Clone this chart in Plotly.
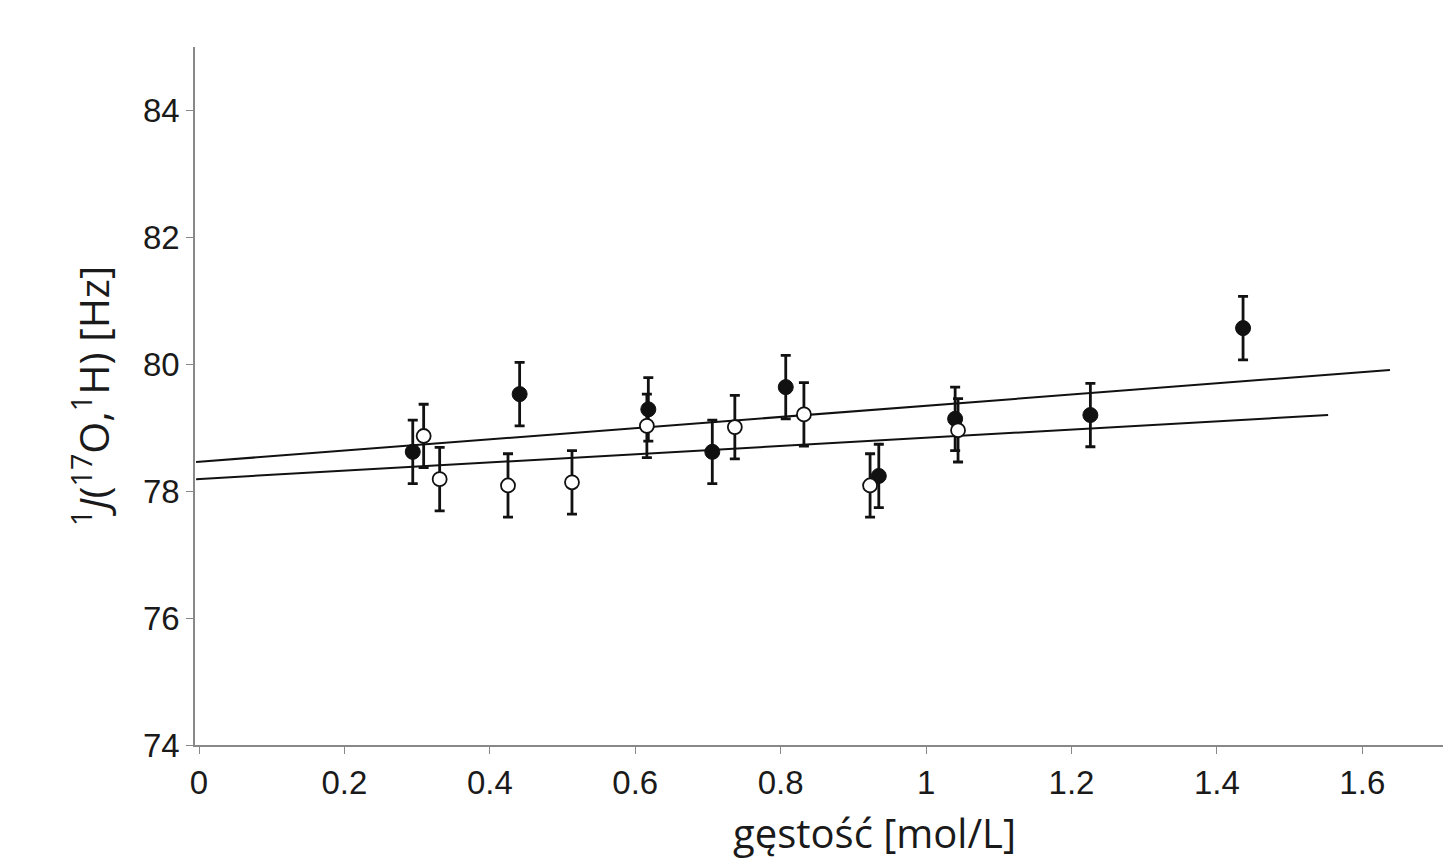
import plotly.graph_objects as go

# filled circles
x_filled = [0.294, 0.441, 0.618, 0.706, 0.807, 0.935, 1.040, 1.226, 1.436]
y_filled = [78.62, 79.53, 79.29, 78.62, 79.64, 78.24, 79.14, 79.20, 80.57]
err_filled = [0.5, 0.5, 0.5, 0.5, 0.5, 0.5, 0.5, 0.5, 0.5]

# open circles
x_open = [0.309, 0.331, 0.425, 0.513, 0.616, 0.737, 0.832, 0.923, 1.044]
y_open = [78.87, 78.19, 78.09, 78.14, 79.03, 79.01, 79.21, 78.09, 78.96]
err_open = [0.5, 0.5, 0.5, 0.5, 0.5, 0.5, 0.5, 0.5, 0.5]

# fit lines
fit_filled_x = [-0.004, 1.638]
fit_filled_y = [78.46, 79.91]
fit_open_x = [-0.004, 1.553]
fit_open_y = [78.19, 79.20]

x_ticks = [0, 0.2, 0.4, 0.6, 0.8, 1, 1.2, 1.4, 1.6]
x_ticklabels = ["0", "0.2", "0.4", "0.6", "0.8", "1", "1.2", "1.4", "1.6"]
y_ticks = [74, 76, 78, 80, 82, 84]

TICKFONT = "Liberation Sans"
TITLEFONT = "Open Sans"
TXT = "#1a1a1a"

fig = go.Figure()
fig.add_trace(go.Scatter(x=fit_filled_x, y=fit_filled_y, mode="lines",
                         line=dict(color="#111", width=2), showlegend=False, hoverinfo="skip"))
fig.add_trace(go.Scatter(x=fit_open_x, y=fit_open_y, mode="lines",
                         line=dict(color="#111", width=2), showlegend=False, hoverinfo="skip"))
fig.add_trace(go.Scatter(
    x=x_filled, y=y_filled, mode="markers", showlegend=False,
    marker=dict(size=15, color="#111", line=dict(color="#111", width=1)),
    error_y=dict(type="data", array=err_filled, visible=True, color="#111", thickness=2.8, width=5)))
fig.add_trace(go.Scatter(
    x=x_open, y=y_open, mode="markers", showlegend=False,
    marker=dict(size=14, color="white", line=dict(color="#111", width=1.8)),
    error_y=dict(type="data", array=err_open, visible=True, color="#111", thickness=2.8, width=5)))

fig.update_layout(
    width=1443, height=856,
    margin=dict(l=187, r=0, t=39, b=119),
    plot_bgcolor="white", paper_bgcolor="white",
    font=dict(family=TICKFONT, color=TXT),
    xaxis=dict(range=[-0.0055, 1.722], tickvals=x_ticks, ticktext=x_ticklabels,
               showgrid=False, zeroline=False, showline=True, linecolor="#888", linewidth=2,
               ticks="outside", ticklen=7, tickcolor="#888", tickwidth=1,
               tickfont=dict(size=33, family=TICKFONT, color=TXT)),
    yaxis=dict(range=[74, 85.0], tickvals=y_ticks,
               showgrid=False, zeroline=False, showline=True, linecolor="#888", linewidth=1.5,
               ticks="outside", ticklen=7, tickcolor="#888", tickwidth=1,
               tickfont=dict(size=33, family=TICKFONT, color=TXT)),
    annotations=[
        dict(text="gęstość [mol/L]", xref="paper", yref="paper",
             x=0.541, y=-0.126, xanchor="center", yanchor="middle",
             showarrow=False, font=dict(size=40, family=TITLEFONT, color=TXT)),
        dict(text="<sup>1</sup><i>J</i>(<sup>17</sup>O,<sup>1</sup>H) [Hz]", xref="paper", yref="paper",
             x=-0.0828, y=0.5, xanchor="center", yanchor="middle", textangle=-90,
             showarrow=False, font=dict(size=41, family=TITLEFONT, color=TXT)),
    ],
)

fig.write_html("out.html")
